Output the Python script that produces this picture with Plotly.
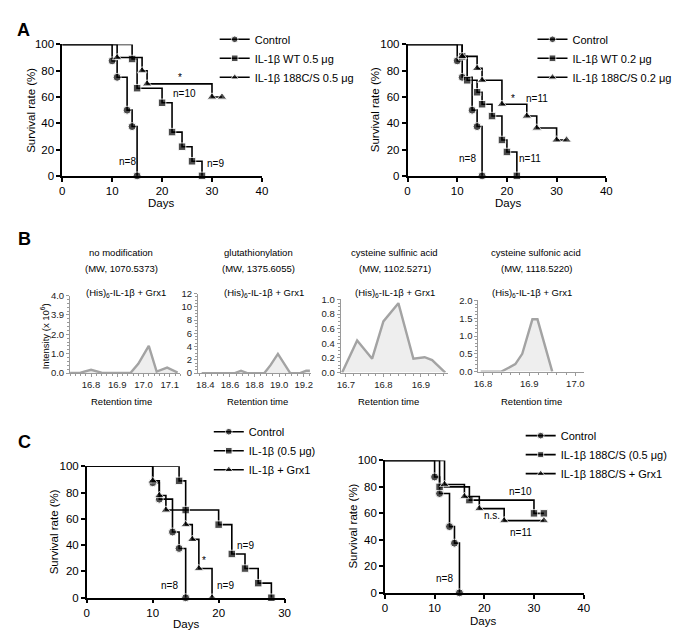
import plotly.graph_objects as go

W, H = 683, 634
FONT = "Liberation Sans, Arial, sans-serif"

# ---------------- data ----------------
# Panel A (left) : 0.5 ug
a1_ctrl_days = [0, 10, 11, 13, 14, 15]
a1_ctrl_surv = [100, 87.5, 75, 50, 37.5, 0]
a1_wt_days = [0, 14, 15, 20, 22, 24, 26, 28]
a1_wt_surv = [100, 88.9, 66.7, 55.6, 33.3, 22.2, 11.1, 0]
a1_mut_days = [0, 11, 16, 17, 30, 32]
a1_mut_surv = [100, 90, 80, 70, 60, 60]

# Panel A (right) : 0.2 ug
a2_ctrl_days = [0, 10, 11, 13, 14, 15]
a2_ctrl_surv = [100, 87.5, 75, 50, 37.5, 0]
a2_wt_days = [0, 11, 12, 14, 15, 17, 19, 20, 22]
a2_wt_surv = [100, 90.9, 72.7, 63.6, 54.5, 45.5, 27.3, 18.2, 0]
a2_mut_days = [0, 11, 14, 15, 19, 24, 26, 30, 32]
a2_mut_surv = [100, 90.9, 81.8, 72.7, 54.5, 45.5, 36.4, 27.3, 27.3]

# Panel B : extracted ion chromatograms
b1_rt = [16.72, 16.76, 16.80, 16.84, 16.95, 16.98, 17.02, 17.05, 17.09, 17.13]
b1_int = [0, 0.02, 0.17, 0.02, 0, 0.48, 1.4, 0.08, 0.28, 0.03]
b2_rt = [18.37, 18.64, 18.69, 18.74, 18.88, 18.93, 18.99, 19.04, 19.09, 19.17, 19.22, 19.25]
b2_int = [0, 0, 0.35, 0, 0, 1.2, 2.9, 1.5, 0, 0, 0.35, 0.35]
b3_rt = [16.69, 16.73, 16.77, 16.80, 16.84, 16.88, 16.91, 16.93, 16.965]
b3_int = [0, 0.44, 0.19, 0.70, 0.95, 0.19, 0.21, 0.17, 0]
b4_rt = [16.795, 16.84, 16.87, 16.885, 16.907, 16.918, 16.95]
b4_int = [0, 0, 0.21, 0.5, 1.47, 1.47, 0]
b1_ytick_vals = [0, 1, 2, 3, 4]
b1_ytick_text = ["0.0", "1.0", "2.0", "3.9", "4.0"]

# Panel C (left)
c1_ctrl_days = [0, 10, 11, 13, 14, 15]
c1_ctrl_surv = [100, 87.5, 75, 50, 37.5, 0]
c1_il_days = [0, 14, 15, 20, 22, 24, 26, 28]
c1_il_surv = [100, 88.9, 66.7, 55.6, 33.3, 22.2, 11.1, 0]
c1_grx_days = [0, 10, 11, 12, 15, 16, 17, 19]
c1_grx_surv = [100, 88.9, 77.8, 66.7, 55.6, 44.4, 22.2, 0]

# Panel C (right)
c2_ctrl_days = [0, 10, 11, 13, 14, 15]
c2_ctrl_surv = [100, 87.5, 75, 50, 37.5, 0]
c2_mut_days = [0, 11, 17, 30, 32]
c2_mut_surv = [100, 80, 70, 60, 60]
c2_grx_days = [0, 12, 16, 19, 24, 32]
c2_grx_surv = [100, 81.8, 72.7, 63.6, 54.5, 54.5]


def px(x):
    return x / W


def py(y):
    return 1 - y / H


fig = go.Figure()

SYM = {"circle": 8, "square": 7.5, "triangle-up": 8.5}


def km(days, surv, name, symbol, ax, legend):
    sizes = [0] + [SYM[symbol]] * (len(days) - 1)
    fig.add_trace(go.Scatter(
        x=days, y=surv, name=name, mode="lines+markers",
        line=dict(shape="hv", color="black", width=1.6),
        marker=dict(symbol=symbol, size=sizes, color="black"),
        xaxis="x" + ax, yaxis="y" + ax, legend=legend, cliponaxis=False))


km(a1_ctrl_days, a1_ctrl_surv, "Control", "circle", "", "legend")
km(a1_wt_days, a1_wt_surv, "IL-1β WT 0.5 μg", "square", "", "legend")
km(a1_mut_days, a1_mut_surv, "IL-1β 188C/S 0.5 μg", "triangle-up", "", "legend")

km(a2_ctrl_days, a2_ctrl_surv, "Control", "circle", "2", "legend2")
km(a2_wt_days, a2_wt_surv, "IL-1β WT 0.2 μg", "square", "2", "legend2")
km(a2_mut_days, a2_mut_surv, "IL-1β 188C/S 0.2 μg", "triangle-up", "2", "legend2")

km(c1_ctrl_days, c1_ctrl_surv, "Control", "circle", "7", "legend3")
km(c1_il_days, c1_il_surv, "IL-1β (0.5 μg)", "square", "7", "legend3")
km(c1_grx_days, c1_grx_surv, "IL-1β + Grx1", "triangle-up", "7", "legend3")

km(c2_ctrl_days, c2_ctrl_surv, "Control", "circle", "8", "legend4")
km(c2_mut_days, c2_mut_surv, "IL-1β 188C/S (0.5 μg)", "square", "8", "legend4")
km(c2_grx_days, c2_grx_surv, "IL-1β 188C/S + Grx1", "triangle-up", "8", "legend4")

for ax, xs, ys in [("3", b1_rt, b1_int), ("4", b2_rt, b2_int),
                   ("5", b3_rt, b3_int), ("6", b4_rt, b4_int)]:
    fig.add_trace(go.Scatter(
        x=xs, y=ys, mode="lines", fill="tozeroy", fillcolor="#eeeeee",
        line=dict(color="#a3a3a3", width=2.4), showlegend=False,
        xaxis="x" + ax, yaxis="y" + ax, cliponaxis=False))

lay = dict(width=W, height=H, margin=dict(l=0, r=0, t=0, b=0),
           paper_bgcolor="white", plot_bgcolor="white",
           font=dict(family=FONT, size=11, color="black"))


def surv_axes(n, x0, x1, y0, y1, xmax):
    xa = dict(domain=[px(x0), px(x1)], range=[0, xmax], dtick=10, tick0=0,
              anchor="y" + n, showline=True, linecolor="black", linewidth=1.5,
              ticks="outside", ticklen=4, tickwidth=1.5, tickcolor="black",
              showgrid=False, zeroline=False, tickfont=dict(size=11.5))
    ya = dict(domain=[py(y1), py(y0)], range=[0, 100], dtick=20, tick0=0,
              anchor="x" + n, showline=True, linecolor="black", linewidth=1.5,
              ticks="outside", ticklen=4, tickwidth=1.5, tickcolor="black",
              showgrid=False, zeroline=False, tickfont=dict(size=11.5))
    lay["xaxis" + n] = xa
    lay["yaxis" + n] = ya


surv_axes("", 50, 253, 31, 165, 40)
surv_axes("2", 401, 603, 31, 165, 40)
surv_axes("7", 75, 276, 461, 595, 30)
surv_axes("8", 378, 580, 455, 590, 40)


def ms_axes(n, x0, x1, y0, y1, xr, xdt, xmin, yr, ydt, ymin, yvals=None, ytext=None):
    common = dict(showline=True, linecolor="#9a9a9a", linewidth=1,
                  ticks="outside", ticklen=3, tickwidth=1, tickcolor="#9a9a9a",
                  showgrid=False, zeroline=False,
                  tickfont=dict(size=9.5, color="#222222"))
    xa = dict(domain=[px(x0), px(x1)], range=xr, dtick=xdt, tick0=0,
              anchor="y" + n, tickformat=".1f",
              minor=dict(ticks="outside", ticklen=2, dtick=xmin, tick0=0,
                         tickcolor="#9a9a9a"), **common)
    ya = dict(domain=[py(y1), py(y0)], range=yr, anchor="x" + n,
              minor=dict(ticks="outside", ticklen=2, dtick=ymin, tick0=0,
                         tickcolor="#9a9a9a"), **common)
    if yvals is not None:
        ya.update(tickmode="array", tickvals=yvals, ticktext=ytext)
    else:
        ya.update(dtick=ydt, tick0=0)
    lay["xaxis" + n] = xa
    lay["yaxis" + n] = ya


ms_axes("3", 58, 170, 287, 366, [16.72, 17.14], 0.1, 0.02, [0, 4], 1, 0.2,
        b1_ytick_vals, b1_ytick_text)
ms_axes("4", 188, 303, 285, 366, [18.34, 19.26], 0.2, 0.05, [0, 12], 2, 0.5)
lay["yaxis4"]["tickformat"] = "d"
ms_axes("5", 333, 442, 291, 365.5, [16.686, 16.972], 0.1, 0.02, [0, 1], 0.2, 0.05)
lay["yaxis5"]["tickformat"] = ".1f"
ms_axes("6", 473, 580, 292, 364.5, [16.79, 17.018], 0.1, 0.02, [0, 2], 0.5, 0.1)
lay["yaxis6"]["tickformat"] = ".1f"


def leg(x_text, y_top):
    return dict(x=px(x_text - 47), y=py(y_top), xanchor="left", yanchor="top",
                bgcolor="rgba(0,0,0,0)", borderwidth=0, itemwidth=30,
                font=dict(size=11, family=FONT), tracegroupgap=0)


lay["legend"] = leg(252, 11)
lay["legend2"] = leg(575, 11)
lay["legend3"] = leg(246, 411)
lay["legend4"] = leg(563, 415)

ann = []


def text(x, y, s, size=11.5, angle=0, bold=False, xanchor="center", color="black"):
    if bold:
        s = "<b>" + s + "</b>"
    ann.append(dict(x=px(x), y=py(y), xref="paper", yref="paper", text=s,
                    showarrow=False, textangle=angle, xanchor=xanchor,
                    yanchor="middle", font=dict(size=size, color=color, family=FONT)))


def dtext(ax, x, y, s, size=10):
    ann.append(dict(x=x, y=y, xref="x" + ax, yref="y" + ax, text=s,
                    showarrow=False, font=dict(size=size, family=FONT)))


# panel letters
text(11, 16, "A", size=18, bold=True)
text(12, 229, "B", size=18, bold=True)
text(12, 436, "C", size=18, bold=True)

# survival axis titles
for (yx, yy, dx, dy) in [(18, 98, 150, 193), (368, 98, 503, 193),
                         (42, 528, 176, 622), (346, 522, 478, 619)]:
    text(yx, yy, "Survival rate (%)", angle=-90)
    text(dx, dy, "Days")

# survival annotations
dtext("", 23.5, 75, "*")
dtext("", 24.5, 63, "n=10")
dtext("", 13, 11, "n=8")
dtext("", 30.8, 9.5, "n=9")
dtext("2", 21.3, 59, "*")
dtext("2", 26.1, 59, "n=11")
dtext("2", 12, 13.5, "n=8")
dtext("2", 24.6, 13.5, "n=11")
dtext("7", 17.8, 28, "*")
dtext("7", 24.1, 40, "n=9")
dtext("7", 12.6, 9, "n=8")
dtext("7", 21, 9, "n=9")
dtext("8", 27.3, 76.5, "n=10")
dtext("8", 21.6, 58.5, "n.s.")
dtext("8", 27.3, 45.5, "n=11")
dtext("8", 12, 10.5, "n=8")

# panel B titles
bt = [(110, "no modification", "(MW, 1070.5373)", 115, 110),
      (250, "glutathionylation", "(MW, 1375.6055)", 255, 248),
      (388, "cysteine sulfinic acid", "(MW, 1102.5271)", 388, 382),
      (532, "cysteine sulfonic acid", "(MW, 1118.5220)", 527, 527)]
for cx, t1, t2, hx, rx in bt:
    text(cx, 243, t1, size=9.5)
    text(cx, 259, t2, size=9.5)
    text(hx, 284, "(His)<sub>6</sub>-IL-1β + Grx1", size=9.5)
    text(rx, 395, "Retention time", size=9.5)
text(32, 328, "Intensity (x 10<sup>6</sup>)", size=9.5, angle=-90)

lay["annotations"] = ann
fig.update_layout(**lay)
fig.write_html("out.html")
